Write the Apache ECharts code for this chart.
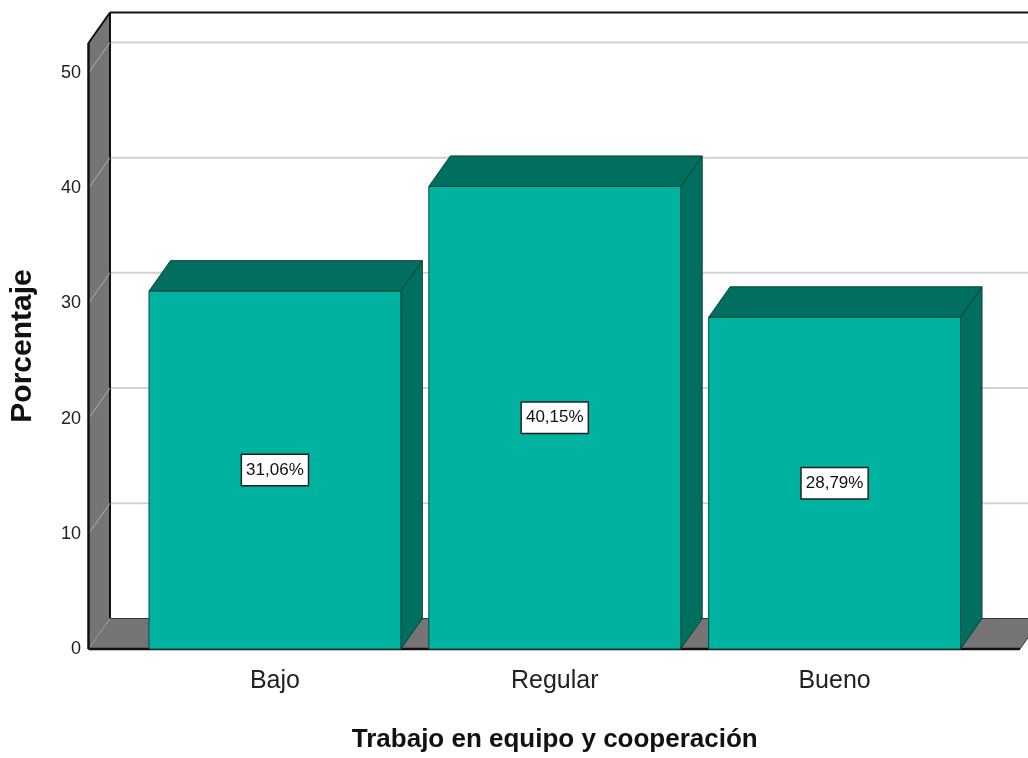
<!DOCTYPE html>
<html>
<head>
<meta charset="utf-8">
<script src="https://cdn.jsdelivr.net/npm/echarts@6/dist/echarts.min.js"></script>
<style>
html,body{margin:0;padding:0;background:#fff;}
#chart{width:1028px;height:758px;}
</style>
</head>
<body>
<div id="chart"></div>
<script>
const categories = ['Bajo', 'Regular', 'Bueno'];
const values = [31.06, 40.15, 28.79];
const valueLabels = ['31,06%', '40,15%', '28,79%'];
const yTicks = [0, 10, 20, 30, 40, 50];
const xTitle = 'Trabajo en equipo y cooperación';
const yTitle = 'Porcentaje';

const YMAX = 52.6;
const DX = 21.5, DY = -30.5;
const FONT = "'Liberation Sans', Arial, sans-serif";
const WALL = '#757575';
const FRONT = '#00b3a0';
const DARK = '#006f60';

function renderFrame(params, api) {
  const cs = params.coordSys;
  const y0 = api.coord([0, 0])[1];
  const yTop = api.coord([0, YMAX])[1];
  const fL = cs.x - 46.5;
  const fR = cs.x + cs.width + 45.5;
  const W = api.getWidth();
  const ch = [];
  yTicks.forEach(t => {
    if (t === 0) return;
    const yt = api.coord([0, t])[1];
    ch.push({type: 'line', shape: {x1: fL + DX, y1: yt + DY, x2: W, y2: yt + DY},
      style: {stroke: '#d2d2d2', lineWidth: 2}});
  });
  ch.push({type: 'line', shape: {x1: fL + DX, y1: yTop + DY, x2: W, y2: yTop + DY},
    style: {stroke: '#111', lineWidth: 2}});
  ch.push({type: 'polygon', shape: {points: [[fL, y0], [fL, yTop], [fL + DX, yTop + DY], [fL + DX, y0 + DY]]},
    style: {fill: WALL}});
  ch.push({type: 'polygon', shape: {points: [[fL, y0], [fL + DX, y0 + DY], [fR + DX, y0 + DY], [fR, y0]]},
    style: {fill: WALL, stroke: '#333', lineWidth: 1}});
  ch.push({type: 'line', shape: {x1: fL + DX, y1: yTop + DY, x2: fL + DX, y2: y0 + DY},
    style: {stroke: '#111', lineWidth: 2}});
  yTicks.forEach(t => {
    const yt = api.coord([0, t])[1];
    ch.push({type: 'line', shape: {x1: fL, y1: yt, x2: fL + DX, y2: yt + DY},
      style: {stroke: '#b0b0b0', lineWidth: 1}});
  });
  ch.push({type: 'line', shape: {x1: fL, y1: yTop, x2: fL + DX, y2: yTop + DY},
    style: {stroke: '#111', lineWidth: 2}});
  ch.push({type: 'line', shape: {x1: fL, y1: yTop, x2: fL, y2: y0},
    style: {stroke: '#111', lineWidth: 2.5}});
  ch.push({type: 'line', shape: {x1: fL, y1: y0, x2: fR, y2: y0},
    style: {stroke: '#111', lineWidth: 2.5}});
  return {type: 'group', children: ch};
}

function renderBar(params, api) {
  const i = api.value(0), v = api.value(1);
  const top = api.coord([i, v]);
  const base = api.coord([i, 0]);
  const w = api.size([1, 0])[0] * 0.9;
  const x0 = top[0] - w / 2, x1 = top[0] + w / 2;
  const yT = top[1], yB = base[1];
  return {
    type: 'group',
    children: [
      {type: 'polygon', shape: {points: [[x1, yT], [x1 + DX, yT + DY], [x1 + DX, yB + DY], [x1, yB]]},
        style: {fill: DARK, stroke: '#0b3f36', lineWidth: 1}},
      {type: 'polygon', shape: {points: [[x0, yT], [x0 + DX, yT + DY], [x1 + DX, yT + DY], [x1, yT]]},
        style: {fill: DARK, stroke: '#0b3f36', lineWidth: 1}},
      {type: 'rect', shape: {x: x0, y: yT, width: w, height: yB - yT},
        style: {fill: FRONT, stroke: '#0b4a40', lineWidth: 1}},
      {type: 'text', x: top[0], y: (yT + yB) / 2,
        style: {text: valueLabels[params.dataIndex], fontFamily: FONT, fontSize: 17, fill: '#111',
          align: 'center', verticalAlign: 'middle', backgroundColor: '#fff',
          borderColor: '#222', borderWidth: 1.5, padding: [7, 4, 6, 4]}}
    ]
  };
}

const chart = echarts.init(document.getElementById('chart'), null, {renderer: 'canvas'});
chart.setOption({
  animation: false,
  backgroundColor: '#fff',
  grid: {left: 134.5, right: 53.5, top: 43, bottom: 108, containLabel: false},
  xAxis: {
    type: 'category', data: categories,
    axisLine: {show: false}, axisTick: {show: false}, splitLine: {show: false},
    axisLabel: {fontFamily: FONT, fontSize: 25, color: '#222', margin: 20},
    name: xTitle, nameLocation: 'middle', nameGap: 78,
    nameTextStyle: {fontFamily: FONT, fontSize: 26, fontWeight: 'bold', color: '#111'}
  },
  yAxis: {
    type: 'value', min: 0, max: YMAX, interval: 10,
    axisLine: {show: false}, axisTick: {show: false}, splitLine: {show: false},
    axisLabel: {fontFamily: FONT, fontSize: 18, color: '#222', margin: 54, padding: [4, 0, 0, 0],
      formatter: v => (yTicks.indexOf(v) >= 0 ? String(v) : '')},
    name: yTitle, nameLocation: 'middle', nameGap: 97, nameRotate: 90,
    nameTextStyle: {fontFamily: FONT, fontSize: 30, fontWeight: 'bold', color: '#111'}
  },
  series: [
    {type: 'custom', z: 1, silent: true, renderItem: renderFrame, data: [[0, 0]], clip: false},
    {type: 'custom', z: 2, renderItem: renderBar, clip: false,
      data: values.map((v, i) => [i, v])}
  ]
});
</script>
</body>
</html>
